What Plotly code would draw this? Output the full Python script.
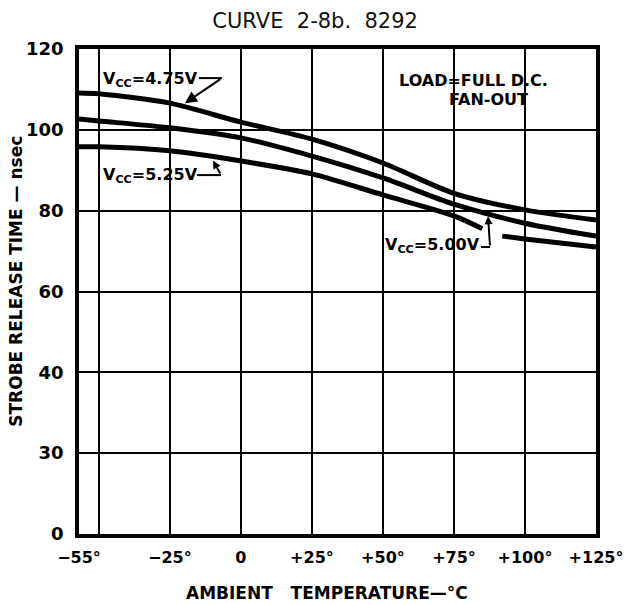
import plotly.graph_objects as go

# ---- data ----
temps = [-57, -50, -25, 0, 25, 50, 75, 100, 125]          # left edge of chart is labelled -55°
vcc_475 = [109.1, 108.9, 106.6, 101.9, 97.7, 91.8, 84.3, 80.2, 77.7]
vcc_500 = [102.7, 102.2, 100.5, 98.0, 93.5, 88.1, 81.6, 76.9, 73.7]
temps_525 = [-57, -50, -25, 0, 25, 50, 75, 85, None, 92, 100, 125]
vcc_525 = [95.8, 95.8, 94.8, 92.3, 89.1, 83.9, 78.7, 75.5, None, 73.7, 73.0, 71.0]

x_tick_vals = [-57, -25, 0, 25, 50, 75, 100, 125]
x_tick_text = ["\u221255°", "\u221225°", "0", "+25°", "+50°", "+75°", "+100°", "+125°"]
x_grid_vals = [-50, -25, 0, 25, 50, 75, 100]
y_tick_vals = [0, 20, 40, 60, 80, 100, 120]
y_tick_text = ["0", "30", "40", "60", "80", "100", "120"]

BOLD = "DejaVu Sans"
fig = go.Figure()
for xs, ys, name in [(temps, vcc_475, "4.75V"), (temps, vcc_500, "5.00V"), (temps_525, vcc_525, "5.25V")]:
    fig.add_trace(go.Scatter(x=xs, y=ys, mode="lines", name=name, connectgaps=False,
                             line=dict(color="black", width=5, shape="spline", smoothing=0.8),
                             showlegend=False, hoverinfo="skip"))

# leader lines
fig.add_shape(type="path", path="M -14.8,112.8 L -6.7,112.8", line=dict(color="black", width=2), xref="x", yref="y")
fig.add_shape(type="path", path="M -15.5,88.8 L -7.0,88.8", line=dict(color="black", width=2), xref="x", yref="y")
fig.add_shape(type="path", path="M 84.5,71.0 L 87.7,71.0", line=dict(color="black", width=2), xref="x", yref="y")

anns = []
txtfont = dict(family=BOLD, size=16, color="black")
anns.append(dict(x=-32, y=112.4, text="<b>V<sub>CC</sub>=4.75V</b>", showarrow=False, font=txtfont))
anns.append(dict(x=-32, y=88.8, text="<b>V<sub>CC</sub>=5.25V</b>", showarrow=False, font=txtfont))
anns.append(dict(x=67.3, y=71.3, text="<b>V<sub>CC</sub>=5.00V</b>", showarrow=False, font=txtfont))
# arrows
anns.append(dict(x=-19.7, y=106.6, ax=-6.7, ay=112.8, axref="x", ayref="y", text="", showarrow=True,
                 arrowhead=2, arrowsize=1.2, arrowwidth=2, arrowcolor="black"))
anns.append(dict(x=-9.8, y=92.4, ax=-7.0, ay=88.8, axref="x", ayref="y", text="", showarrow=True,
                 arrowhead=2, arrowsize=0.8, arrowwidth=2, arrowcolor="black"))
anns.append(dict(x=87.0, y=78.6, ax=87.7, ay=71.0, axref="x", ayref="y", text="", showarrow=True,
                 arrowhead=2, arrowsize=0.8, arrowwidth=2, arrowcolor="black"))
anns.append(dict(x=81.7, y=112.1, text="<b>LOAD=FULL D.C.</b>", showarrow=False, font=txtfont))
anns.append(dict(x=87.3, y=107.4, text="<b>FAN-OUT</b>", showarrow=False, font=txtfont))
# axis titles (placed as paper annotations to match the reference offsets)
titlefont = dict(family=BOLD, size=17, color="black")
anns.append(dict(xref="paper", yref="paper", x=0.48, y=-0.122, text="<b>AMBIENT   TEMPERATURE—°C</b>",
                 showarrow=False, font=titlefont, xanchor="center", yanchor="middle"))
anns.append(dict(xref="paper", yref="paper", x=-0.122, y=0.522, text="<b>STROBE RELEASE TIME — nsec</b>",
                 textangle=-90, showarrow=False, font=titlefont, xanchor="center", yanchor="middle"))

fig.update_layout(
    width=624, height=605,
    margin=dict(l=79, r=28, t=49, b=71),
    paper_bgcolor="white", plot_bgcolor="white",
    title=dict(text="CURVE  2-8b.  8292", x=0.505, xanchor="center", y=0.966, yanchor="middle",
               font=dict(family="DejaVu Sans", size=21, color="#111")),
    annotations=anns,
    xaxis=dict(range=[-57, 125], tickmode="array", tickvals=x_tick_vals,
               ticktext=["<b>%s</b>" % t for t in x_tick_text], automargin=False,
               ticklabeloverflow="allow",
               showgrid=False, zeroline=False, showline=True, mirror=True, linecolor="black", linewidth=3.5,
               ticks="outside", ticklen=6, tickcolor="rgba(0,0,0,0)",
               tickfont=dict(family=BOLD, size=16, color="black"),
               minor=dict(tickmode="array", tickvals=x_grid_vals, showgrid=True, gridcolor="black", gridwidth=2, ticks="")),
    yaxis=dict(range=[0, 120], tickmode="array", tickvals=y_tick_vals,
               ticktext=["<b>%s</b>" % t for t in y_tick_text], automargin=False,
               ticklabeloverflow="allow",
               showgrid=True, gridcolor="black", gridwidth=2, zeroline=False,
               showline=True, mirror=True, linecolor="black", linewidth=3.5,
               ticks="outside", ticklen=8, tickcolor="rgba(0,0,0,0)",
               tickfont=dict(family=BOLD, size=18, color="black")),
)

fig.write_html("out.html", config={"displayModeBar": False},
               post_script="document.body.style.margin='0';document.body.style.overflow='hidden';")
